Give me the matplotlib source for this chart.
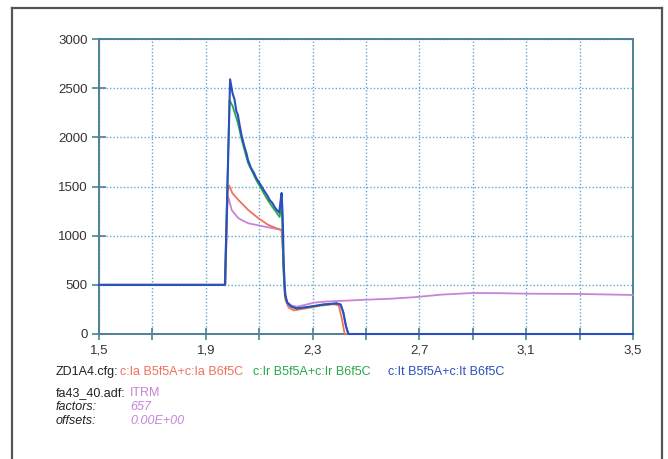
from matplotlib import pyplot
from matplotlib.lines import Line2D
from matplotlib.ticker import FixedLocator, FuncFormatter

pyplot.rcParams['font.family'] = ['Liberation Sans', 'DejaVu Sans']

# c:Ia (red)
t_ia = [1.5, 1.973, 1.982, 1.987, 2.0, 2.022, 2.059, 2.097, 2.134, 2.17, 2.184,
        2.188, 2.192, 2.198, 2.21, 2.23, 2.27, 2.33, 2.38, 2.398, 2.41, 2.42, 3.5]
v_ia = [500, 500, 1450, 1510, 1430, 1363, 1261, 1177, 1109, 1070, 1058,
        900, 600, 350, 270, 240, 258, 288, 303, 290, 150, 0, 0]

# c:Ir (green)
t_ir = [1.5, 1.971, 1.989, 2.0, 2.02, 2.034, 2.058, 2.09, 2.109, 2.13, 2.15,
        2.166, 2.176, 2.182, 2.186, 2.19, 2.196, 2.205, 2.22, 2.24, 2.29,
        2.34, 2.39, 2.405, 2.415, 2.425, 2.434, 3.5]
v_ir = [500, 500, 2380, 2320, 2150, 1980, 1740, 1560, 1470, 1370, 1290,
        1230, 1190, 1300, 1150, 700, 400, 315, 278, 258, 276,
        298, 310, 298, 220, 80, 0, 0]

# c:It (blue)
t_it = [1.5, 1.972, 1.991, 2.0, 2.008, 2.014, 2.02, 2.027, 2.034, 2.045, 2.052,
        2.058, 2.069, 2.08, 2.09, 2.1, 2.109, 2.12, 2.13, 2.14, 2.15, 2.158,
        2.166, 2.175, 2.18, 2.184, 2.188, 2.192, 2.197, 2.205, 2.22, 2.24,
        2.29, 2.34, 2.39, 2.405, 2.415, 2.425, 2.434, 3.5]
v_it = [500, 500, 2590, 2450, 2380, 2270, 2230, 2120, 2020, 1900, 1840,
        1770, 1690, 1640, 1580, 1540, 1500, 1450, 1410, 1360, 1330, 1290,
        1261, 1235, 1350, 1434, 1200, 700, 400, 320, 280, 261,
        278, 300, 312, 300, 220, 80, 0, 0]

# ITRM (violet)
t_itrm = [1.5, 1.973, 1.98, 1.984, 1.997, 2.022, 2.059, 2.122, 2.184, 2.19,
          2.195, 2.203, 2.22, 2.24, 2.27, 2.303, 2.35, 2.39, 2.478, 2.6,
          2.69, 2.78, 2.9, 3.0, 3.1, 3.3, 3.5]
v_itrm = [500, 500, 1300, 1396, 1261, 1177, 1126, 1091, 1058, 800,
          500, 329, 290, 278, 295, 318, 330, 335, 346, 360,
          376, 400, 417, 415, 410, 407, 397]

x_ticks = [1.5, 1.9, 2.3, 2.7, 3.1, 3.5]
x_minor = [1.7, 2.1, 2.5, 2.9, 3.3]
y_ticks = [0, 500, 1000, 1500, 2000, 2500, 3000]

RED = '#f0705a'
GREEN = '#2aa84a'
BLUE = '#2a4fc0'
VIOLET = '#c684d8'
AXIS = '#4d8196'
GRID = '#62a8cc'

W, H = 668, 459
fig = pyplot.figure(figsize=(W / 100, H / 100), dpi=100)

# frame around the whole sheet (open at the bottom edge)
for xs, ys in [((12, 12), (470, 8)), ((12, 662), (8, 8)), ((662, 662), (8, 470))]:
    fig.add_artist(Line2D([x / W for x in xs], [1 - y / H for y in ys],
                          color='#555555', lw=1.6))

ax = fig.add_axes([99 / W, 1 - 334 / H, 534 / W, 295 / H])

ax.plot(t_itrm, v_itrm, color=VIOLET, lw=1.3, clip_on=False, zorder=3)
ax.plot(t_ia, v_ia, color=RED, lw=1.3, clip_on=False, zorder=4)
ax.plot(t_ir, v_ir, color=GREEN, lw=1.3, clip_on=False, zorder=5)
ax.plot(t_it, v_it, color=BLUE, lw=1.5, clip_on=False, zorder=6)

ax.set_xlim(1.5, 3.5)
ax.set_ylim(0, 3000)
ax.set_xticks(x_ticks)
ax.xaxis.set_minor_locator(FixedLocator(x_minor))
ax.set_yticks(y_ticks)
ax.xaxis.set_major_formatter(FuncFormatter(lambda v, p: f'{v:.1f}'.replace('.', ',')))

ax.grid(True, which='both', color=GRID, lw=1, linestyle=(0, (1, 1.5)))
ax.set_axisbelow(True)
for s in ax.spines.values():
    s.set_color(AXIS)
    s.set_linewidth(1.4)
ax.tick_params(which='both', direction='inout', color=AXIS, width=1.2,
               labelsize=9.5, labelcolor='#333333')
ax.tick_params(axis='x', which='both', length=9, pad=3)
ax.tick_params(axis='y', length=10, pad=3)

# run info below the plot
def put(x, y, s, color='#222222', style='normal'):
    fig.text(x / W, 1 - y / H, s, color=color, fontsize=9, style=style,
             va='center', ha='left')

put(56, 372, 'ZD1A4.cfg:')
put(120, 372, 'c:Ia B5f5A+c:Ia B6f5C', RED)
put(253, 372, 'c:Ir B5f5A+c:Ir B6f5C', GREEN)
put(388, 372, 'c:It B5f5A+c:It B6f5C', BLUE)
put(56, 393, 'fa43_40.adf:')
put(130, 393, 'ITRM', VIOLET)
put(56, 407, 'factors:', style='italic')
put(130, 407, '657', VIOLET, style='italic')
put(56, 421, 'offsets:', style='italic')
put(130, 421, '0.00E+00', VIOLET, style='italic')

pyplot.savefig('out.png', dpi=100)
pyplot.close()
